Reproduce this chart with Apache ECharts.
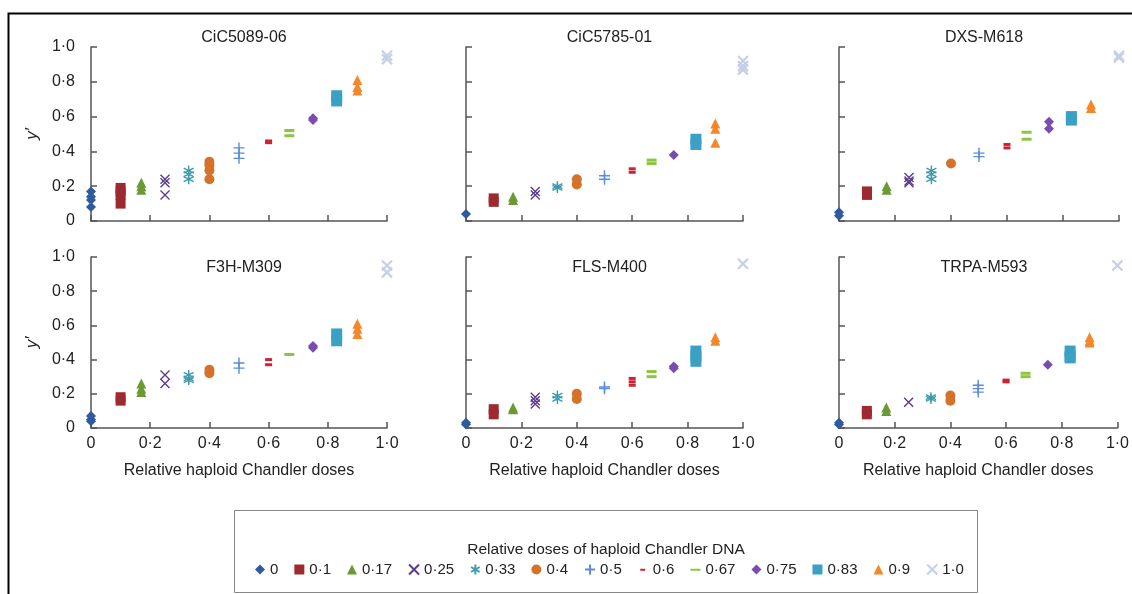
<!DOCTYPE html>
<html>
<head>
<meta charset="utf-8">
<script src="https://cdn.jsdelivr.net/npm/echarts@6/dist/echarts.min.js"></script>
<style>html,body{margin:0;padding:0;background:#fff}#c{width:1132px;height:594px}</style>
</head>
<body>
<div id="c"></div>
<script>
// Dose categories (x positions) and legend labels
const doses = [0, 0.1, 0.17, 0.25, 0.33, 0.4, 0.5, 0.6, 0.67, 0.75, 0.83, 0.9, 1.0];
const doseLabels = ['0', '0·1', '0·17', '0·25', '0·33', '0·4', '0·5', '0·6', '0·67', '0·75', '0·83', '0·9', '1·0'];
const panelTitles = ['CiC5089-06', 'CiC5785-01', 'DXS-M618', 'F3H-M309', 'FLS-M400', 'TRPA-M593'];
const tickValues = [0, 0.2, 0.4, 0.6, 0.8, 1.0];

// y' values per dose, one array per marker panel
const cic5089 = [[0.17,0.14,0.12,0.08],[0.19,0.17,0.15,0.10],[0.22,0.20,0.18],[0.24,0.22,0.15],[0.29,0.27,0.24],[0.34,0.32,0.29,0.24],[0.42,0.39,0.36],[0.46,0.45],[0.52,0.49],[0.59,0.58],[0.72,0.69],[0.81,0.77,0.75],[0.95,0.93]];
const cic5785 = [[0.04],[0.13,0.11],[0.14,0.12],[0.17,0.15],[0.20,0.19],[0.24,0.21],[0.26,0.24],[0.30,0.28],[0.35,0.33],[0.38],[0.47,0.44],[0.56,0.53,0.45],[0.92,0.89,0.87]];
const dxs618 = [[0.05,0.03],[0.17,0.15],[0.20,0.18],[0.25,0.23,0.22],[0.29,0.27,0.24],[0.33],[0.39,0.37],[0.44,0.42],[0.51,0.47],[0.57,0.53],[0.60,0.58],[0.67,0.65],[0.95,0.94]];
const f3h309 = [[0.07,0.05,0.04],[0.18,0.16],[0.26,0.23,0.21],[0.31,0.26],[0.31,0.29,0.28],[0.34,0.32],[0.38,0.35],[0.40,0.37],[0.43],[0.48,0.47],[0.55,0.51],[0.61,0.58,0.55],[0.95,0.91]];
const fls400 = [[0.03,0.02],[0.11,0.08],[0.12,0.11],[0.18,0.16,0.14],[0.19,0.17],[0.20,0.17],[0.24,0.23],[0.29,0.27,0.25],[0.33,0.30],[0.36,0.35],[0.45,0.42,0.39],[0.53,0.51],[0.96]];
const trpa593 = [[0.03,0.02],[0.10,0.08],[0.12,0.10],[0.15],[0.18,0.17],[0.19,0.16],[0.25,0.23,0.21],[0.28,0.27],[0.32,0.30],[0.37],[0.45,0.42,0.41],[0.53,0.51,0.50],[0.95]];
const panelData = [cic5089, cic5785, dxs618, f3h309, fls400, trpa593];

// Styles
const colors = ['#2e5aa0','#9e2a2f','#6b9a35','#5a3d8c','#3d9bab','#d4722a','#5b8bd9','#cc2233','#8cc63f','#7a4bb0','#3aa0c4','#f5872a','#c5d0e8'];
const X = 'path://M0 0 L10 10 M10 0 L0 10';
const PLUS = 'path://M5 0 L5 10 M0 5 L10 5';
const AST = 'path://M5 0 L5 10 M0.7 2.5 L9.3 7.5 M0.7 7.5 L9.3 2.5';
const DASH_S = 'path://M0 0 L0 0.01 L0.01 0.01 Z M2.5 4.2 L7.5 4.2 L7.5 6.2 L2.5 6.2 Z M10 10 L10 9.99 L9.99 9.99 Z';
const DASH_L = 'path://M0 0 L0 0.01 L0.01 0.01 Z M0 4.2 L10 4.2 L10 6.2 L0 6.2 Z M10 10 L10 9.99 L9.99 9.99 Z';
const symbols = ['diamond','rect','triangle',X,AST,'circle',PLUS,'rect','rect','diamond','rect','triangle',X];
const legendIcons = ['diamond','rect','triangle',X,AST,'circle',PLUS,DASH_S,DASH_L,'diamond','rect','triangle',X];
const sizes = [10,10,10,9,10,10,11,[7,3],[10,3],10,[11,11],10,10];
const stroked = [false,false,false,true,true,false,true,false,false,false,false,false,true];

const colLeft = [91, 466, 839], colWidth = [296, 277, 280];
const rowTop = [47, 257], rowHeight = [174, 171];
const fmt = v => v === 0 ? '0' : v.toFixed(1).replace('.', '·');
const FONT = 'Liberation Sans, Arial, sans-serif';

const grids = [], xAxes = [], yAxes = [], titles = [], series = [];
for (let p = 0; p < 6; p++) {
  const r = Math.floor(p / 3), c = p % 3;
  grids.push({left: colLeft[c], top: rowTop[r], width: colWidth[c], height: rowHeight[r], containLabel: false});
  const axLine = {show: true, lineStyle: {color: '#555', width: 1.5}};
  xAxes.push({
    type: 'value', gridIndex: p, min: 0, max: 1, interval: 0.2,
    axisLine: axLine, axisTick: {show: true, inside: true, length: 6, lineStyle: {color: '#555', width: 1.5}},
    splitLine: {show: false},
    axisLabel: {show: r === 1, formatter: fmt, color: '#222', fontSize: 16, fontFamily: FONT, margin: 8},
    name: r === 1 ? 'Relative haploid Chandler doses' : '', nameLocation: 'middle', nameGap: 35,
    nameTextStyle: {color: '#222', fontSize: 16, fontFamily: FONT}
  });
  yAxes.push({
    type: 'value', gridIndex: p, min: 0, max: 1, interval: 0.2,
    axisLine: axLine, axisTick: {show: true, inside: true, length: 6, lineStyle: {color: '#555', width: 1.5}},
    splitLine: {show: false},
    axisLabel: {show: c === 0, formatter: fmt, color: '#222', fontSize: 16, fontFamily: FONT, margin: 16},
    name: c === 0 ? 'y′' : '', nameLocation: 'middle', nameGap: 50,
    nameTextStyle: {color: '#222', fontSize: 17, fontFamily: FONT, fontStyle: 'italic'}
  });
  titles.push({
    text: panelTitles[p], left: colLeft[c] + colWidth[c] / 2, top: r === 0 ? 25 : 255, textAlign: 'center',
    textStyle: {color: '#222', fontSize: 16, fontWeight: 'normal', fontFamily: FONT}
  });
  for (let d = 0; d < doses.length; d++) {
    series.push({
      type: 'scatter', name: doseLabels[d], xAxisIndex: p, yAxisIndex: p,
      symbol: symbols[d], symbolSize: sizes[d],
      itemStyle: stroked[d]
        ? {color: colors[d], borderColor: colors[d], borderWidth: d === 12 ? 2.2 : 1.4, opacity: 1}
        : {color: colors[d], opacity: 1},
      data: panelData[p][d].map(v => [doses[d], v]),
      emphasis: {disabled: true}
    });
  }
}

const option = {
  animation: false,
  backgroundColor: '#fff',
  title: titles,
  grid: grids, xAxis: xAxes, yAxis: yAxes, series: series,
  legend: {
    data: doseLabels.map((n, i) => ({name: n, icon: legendIcons[i]})),
    left: 250, top: 557, itemWidth: 10, itemHeight: 10, itemGap: 16,
    textStyle: {color: '#222', fontSize: 15, fontFamily: FONT},
    selectedMode: false
  },
  graphic: [
    {type: 'polyline', shape: {points: [[8.5, 594], [8.5, 13.5], [1132, 13.5]]}, style: {stroke: '#000', lineWidth: 2, fill: null}, silent: true},
    {type: 'rect', shape: {x: 234.5, y: 510.5, width: 743, height: 82}, style: {stroke: '#888', lineWidth: 1, fill: null}, silent: true},
    {type: 'text', x: 606, y: 550, style: {text: 'Relative doses of haploid Chandler DNA', fill: '#222', fontSize: 15.5, fontFamily: FONT, align: 'center', verticalAlign: 'middle'}, silent: true}
  ]
};
const chart = echarts.init(document.getElementById('c'), null, {renderer: 'canvas'});
chart.setOption(option);
</script>
</body>
</html>
